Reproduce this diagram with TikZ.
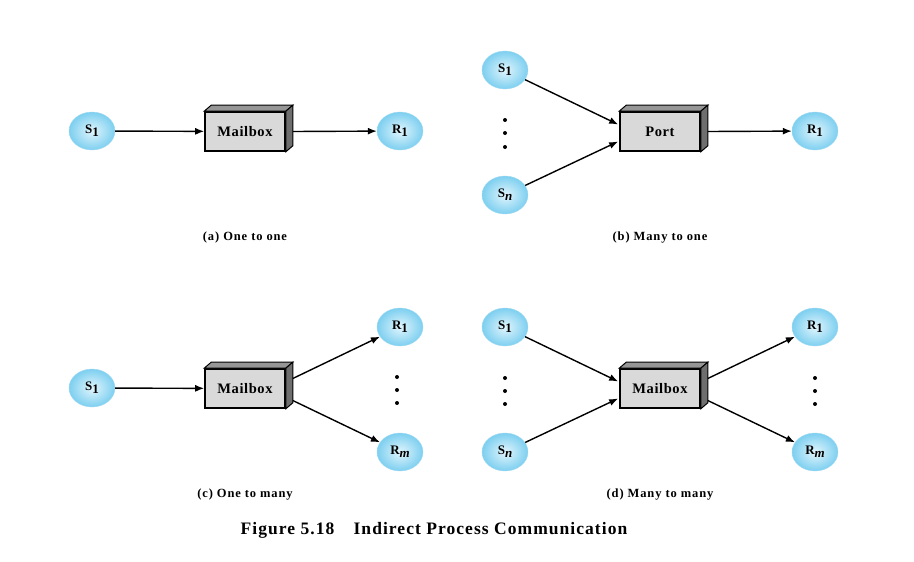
\documentclass[tikz,border=0pt]{standalone}
\usepackage{fontspec}
\setmainfont{Liberation Serif}
\newfontfamily\captionserif[LetterSpace=7]{Liberation Serif}
\newfontfamily\titleserif[LetterSpace=6]{Liberation Serif}
\newfontfamily\boxserif[LetterSpace=4]{Liberation Serif}
\usetikzlibrary{arrows.meta,shapes.geometric,calc}

\definecolor{procedge}{RGB}{160,218,242}
\definecolor{procin}{RGB}{225,245,252}
\definecolor{procout}{RGB}{125,207,240}
\definecolor{boxfront}{RGB}{217,217,217}
\definecolor{boxtop}{RGB}{150,150,150}
\definecolor{boxside}{RGB}{110,110,110}

\tikzset{
  proc/.style={ellipse, minimum width=46pt, minimum height=38pt, inner sep=0pt,
    draw=procedge, line width=0.4pt, inner color=procin, outer color=procout,
    font=\fontsize{13}{13}\selectfont\bfseries},
  crate/.style={rectangle, minimum width=80pt, minimum height=39pt, inner sep=0pt,
    draw=black, line width=1.6pt, fill=boxfront,
    font=\boxserif\fontsize{14.5}{14.5}\selectfont\bfseries},
  link/.style={draw=black, line width=1.4pt, -{Latex[length=9pt,width=7pt]}},
  dot/.style={circle, fill=black, inner sep=0pt, minimum size=4pt},
  caption/.style={font=\captionserif\fontsize{12.5}{12.5}\selectfont\bfseries},
  title/.style={font=\titleserif\fontsize{17.5}{18}\selectfont\bfseries}
}

% 3-D faces on top and right of a crate node
\newcommand\cratefaces[1]{%
  \filldraw[fill=boxtop, draw=black, line width=1pt]
    (#1.north west) -- ++(7,-6) -- ($(#1.north east)+(7,-6)$) -- (#1.north east) -- cycle;
  \filldraw[fill=boxside, draw=black, line width=1pt]
    (#1.north east) -- ++(7,-6) -- ($(#1.south east)+(7,-6)$) -- (#1.south east) -- cycle;
  \coordinate (#1-out) at ($(#1.east)+(7,0)$);
  \coordinate (#1-outup) at ($(#1.east)+(7,-10)$);
  \coordinate (#1-outdn) at ($(#1.east)+(7,12)$);
  \coordinate (#1-inup) at ($(#1.west)+(-1,-7)$);
  \coordinate (#1-indn) at ($(#1.west)+(-1,10)$);
}

\newcommand\Sone{S\raisebox{-0.55ex}{1}}
\newcommand\Sn{S\raisebox{-0.55ex}{\itshape n}}
\newcommand\Rone{R\raisebox{-0.55ex}{1}}
\newcommand\Rm{R\raisebox{-0.55ex}{\itshape m}}

\begin{document}
\begin{tikzpicture}[x=1pt,y=-1pt]
\useasboundingbox (0,0) rectangle (914,562);

% (a) one to one
\node[proc] (sa) at (92,131) {\Sone};
\node[crate] (ma) at (245,131.5) {Mailbox};
\cratefaces{ma}
\node[proc] (ra) at (400,131) {\Rone};
\draw[link] (sa) -- (ma);
\draw[link] (ma-out) -- (ra);
\node[caption] (capa) at (245,237.5) {(a) One to one};

% (b) many to one
\node[proc] (sb1) at (505,70) {\Sone};
\node[proc] (sbn) at (505,195) {\Sn};
\node[dot] (db1) at (505,120) {};
\node[dot] (db2) at (505,133) {};
\node[dot] (db3) at (505,147) {};
\node[crate] (pb) at (660,131.5) {Port};
\cratefaces{pb}
\node[proc] (rb) at (815,131) {\Rone};
\draw[link] (sb1) -- (pb-inup);
\draw[link] (sbn) -- (pb-indn);
\draw[link] (pb-out) -- (rb);
\node[caption] (capb) at (660,237.5) {(b) Many to one};

% (c) one to many
\node[proc] (sc) at (92,388) {\Sone};
\node[crate] (mc) at (245,388.5) {Mailbox};
\cratefaces{mc}
\node[proc] (rc1) at (400,327) {\Rone};
\node[proc] (rcm) at (400,452) {\Rm};
\node[dot] (dc1) at (397,377) {};
\node[dot] (dc2) at (397,390) {};
\node[dot] (dc3) at (397,403) {};
\draw[link] (sc) -- (mc);
\draw[link] (mc-outup) -- (rc1);
\draw[link] (mc-outdn) -- (rcm);
\node[caption] (capc) at (245,494.5) {(c) One to many};

% (d) many to many
\node[proc] (sd1) at (505,327) {\Sone};
\node[proc] (sdn) at (505,452) {\Sn};
\node[dot] (dd1) at (505,378) {};
\node[dot] (dd2) at (505,391) {};
\node[dot] (dd3) at (505,404) {};
\node[crate] (md) at (660,388.5) {Mailbox};
\cratefaces{md}
\node[proc] (rd1) at (815,327) {\Rone};
\node[proc] (rdm) at (815,452) {\Rm};
\node[dot] (de1) at (815,378) {};
\node[dot] (de2) at (815,391) {};
\node[dot] (de3) at (815,404) {};
\draw[link] (sd1) -- (md-inup);
\draw[link] (sdn) -- (md-indn);
\draw[link] (md-outup) -- (rd1);
\draw[link] (md-outdn) -- (rdm);
\node[caption] (capd) at (660,494.5) {(d) Many to many};

\node[title] (fig) at (434,530.5) {Figure 5.18\hspace{1.1em}Indirect Process Communication};
\end{tikzpicture}
\end{document}
